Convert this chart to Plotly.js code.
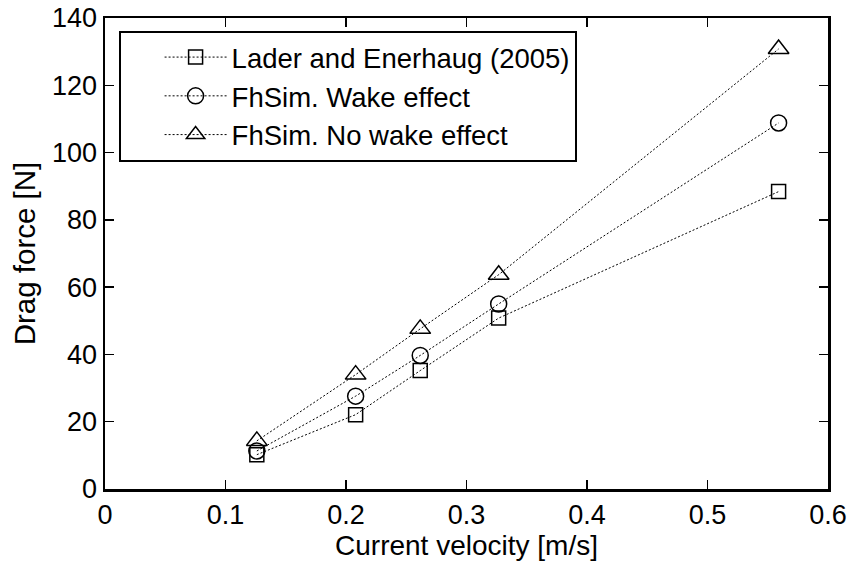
<!DOCTYPE html>
<html>
<head>
<meta charset="utf-8">
<script src="https://cdn.plot.ly/plotly-3.0.1.min.js"></script>
<style>html,body{margin:0;padding:0;background:#fff;}#chart{width:850px;height:564px;}</style>
</head>
<body>
<div id="chart"></div>
<script>
const velocity = [0.126, 0.208, 0.2616, 0.3267, 0.559];
const laderEnerhaug = [10.2, 22.1, 35.2, 50.8, 88.4];
const wakeEffect = [11.3, 27.6, 39.7, 55.0, 108.8];
const noWakeEffect = [14.3, 34.0, 47.6, 63.7, 130.8];
const seriesNames = ["Lader and Enerhaug (2005)", "FhSim. Wake effect", "FhSim. No wake effect"];
const xTicks = [0, 0.1, 0.2, 0.3, 0.4, 0.5, 0.6];
const xTickText = ["0", "0.1", "0.2", "0.3", "0.4", "0.5", "0.6"];
const yTicks = [0, 20, 40, 60, 80, 100, 120, 140];

const symbols = ["square-open", "circle-open", "triangle-up-open"];
const sizes = [14, 16, 18];
const ys = [laderEnerhaug, wakeEffect, noWakeEffect];
const traces = ys.map((y, i) => ({
  x: velocity, y: y, name: seriesNames[i], type: "scatter", mode: "lines+markers",
  line: {color: "#000", width: 1, dash: "2px,2px"},
  marker: {symbol: symbols[i], size: sizes[i], color: "#000", line: {color: "#000", width: 1.5}}
}));

const fam = "Liberation Sans, Arial, sans-serif";
const tickFont = {family: fam, size: 27, color: "#000"};
const layout = {
  width: 850, height: 564,
  margin: {l: 105, r: 22, t: 18, b: 75},
  paper_bgcolor: "#fff", plot_bgcolor: "#fff",
  font: {family: fam, size: 27, color: "#000"},
  showlegend: true,
  legend: {x: 0.0188, y: 0.973, xanchor: "left", yanchor: "top", bgcolor: "#fff",
    bordercolor: "#000", borderwidth: 2, font: {family: fam, size: 27.5, color: "#000"},
    tracegroupgap: 0, itemwidth: 62, indentation: 39},
  xaxis: {range: [0, 0.6], tickvals: xTicks, ticktext: xTickText, ticks: "inside", ticklen: 9,
    tickwidth: 1.5, tickcolor: "#000", showline: true, linecolor: "#000", linewidth: 2.5, mirror: "ticks",
    showgrid: false, zeroline: false, tickfont: tickFont,
    title: {text: "Current velocity [m/s]", font: {family: fam, size: 28, color: "#000"}, standoff: 6}},
  yaxis: {range: [0, 140], tickvals: yTicks, ticks: "inside", ticklen: 9,
    tickwidth: 1.5, tickcolor: "#000", showline: true, linecolor: "#000", linewidth: 2.5, mirror: "ticks",
    showgrid: false, zeroline: false, tickfont: tickFont,
    title: {text: "Drag force [N]", font: {family: fam, size: 29.5, color: "#000"}, standoff: 8}}
};
Plotly.newPlot("chart", traces, layout, {displayModeBar: false, staticPlot: true});
</script>
</body>
</html>
